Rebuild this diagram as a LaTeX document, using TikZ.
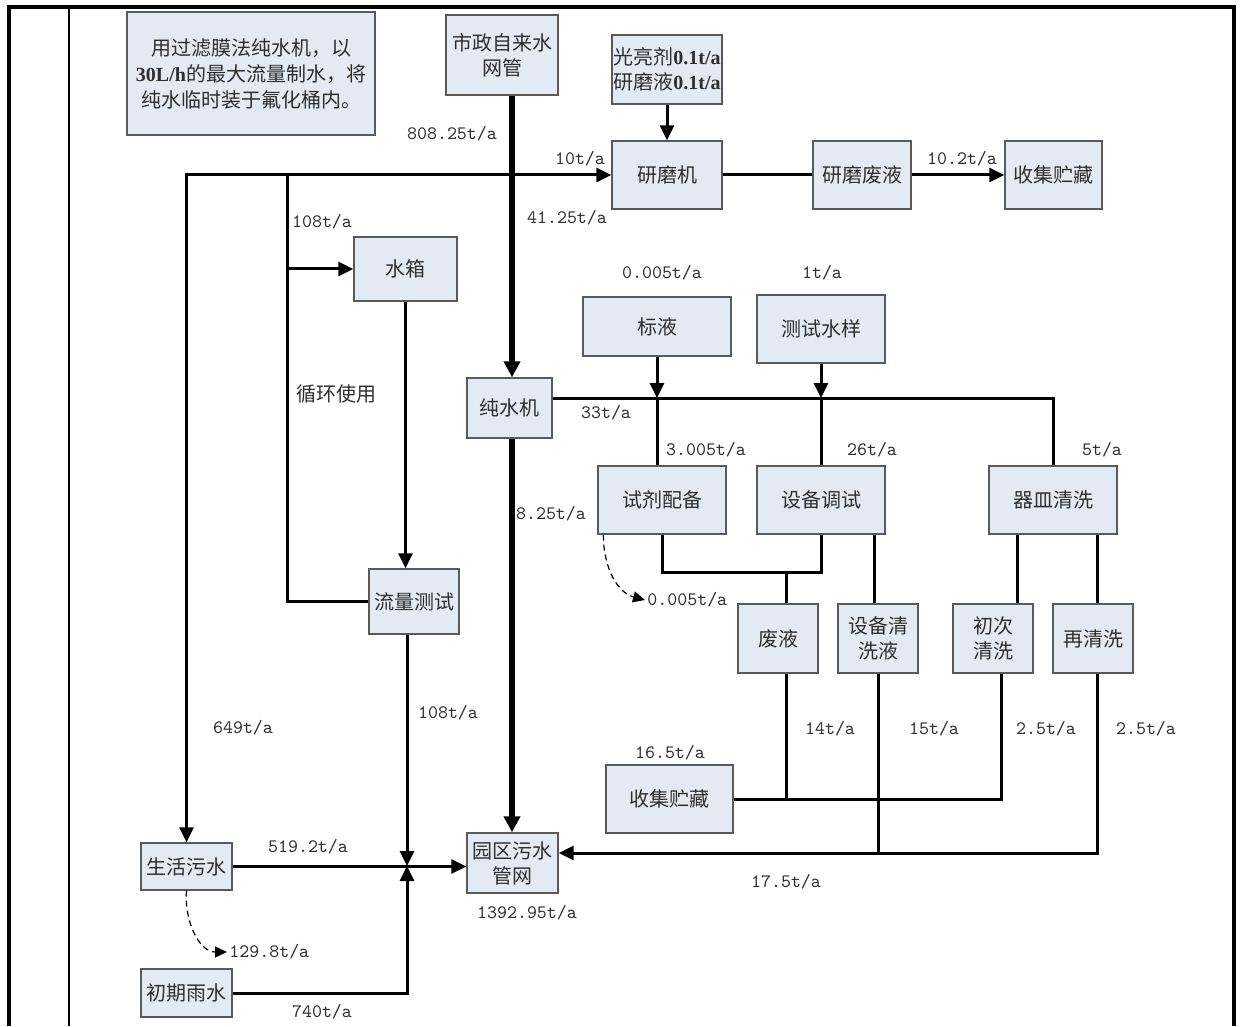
\documentclass[tikz,border=0pt]{standalone}
\usepackage{fontspec}
\usepackage{xcolor}
\usepackage{tikz}
\usetikzlibrary{arrows.meta}
\newfontfamily\cjk{Noto Sans CJK SC}
\newfontfamily\tnr{Liberation Serif}
\definecolor{boxfill}{HTML}{E4EAF4}
\definecolor{boxline}{HTML}{5A5A5A}
\definecolor{txtgray}{HTML}{2E2E2E}

\begin{document}
\begin{tikzpicture}[x=0.5pt, y=-0.5pt,
  box/.style={draw=boxline, fill=boxfill, line width=0.7pt, inner sep=0pt,
              align=center, text=txtgray, font=\cjk\fontsize{10}{12.5}\selectfont},
  lbl/.style={inner sep=1pt, text=txtgray, font=\ttfamily\fontsize{9.5}{11}\selectfont},
  cnlbl/.style={inner sep=1pt, text=txtgray, font=\cjk\fontsize{10}{12}\selectfont},
  pipe/.style={line width=1.5pt},
  arr/.style={line width=1.5pt, -{Triangle[length=7.5pt,width=7pt]}},
  biarr/.style={line width=1.5pt, {Triangle[length=7.5pt,width=7pt]}-{Triangle[length=7.5pt,width=7pt]}},
  mainarr/.style={line width=2.6pt, -{Triangle[length=8pt,width=8pt]}},
  dasharr/.style={line width=0.6pt, dash pattern=on 3pt off 2pt, -{Triangle[length=6pt,width=5.5pt]}},
  cellrule/.style={line width=2pt}
]
\useasboundingbox (0,0) rectangle (1245,1026);

% table cell
\draw[cellrule] (9,1026) -- (9,7) -- (1234,7) -- (1234,1026);
\draw[line width=0.8pt] (69,7) -- (69,1026);

% boxes
\node[box, minimum width=124pt, minimum height=61.5pt, font=\cjk\fontsize{10}{13}\selectfont] (note) at (251,73.5)
  {用过滤膜法纯水机，以\\{\tnr\bfseries 30L/h}的最大流量制水，将\\纯水临时装于氟化桶内。};
\node[box, minimum width=56pt, minimum height=40pt] (tap) at (502,55) {市政自来水\\网管};
\node[box, minimum width=55pt, minimum height=34.5pt] (additive) at (667,69.5)
  {光亮剂{\tnr\bfseries 0.1t/a}\\研磨液{\tnr\bfseries 0.1t/a}};
\node[box, minimum width=55pt, minimum height=34pt] (grinder) at (667,175) {研磨机};
\node[box, minimum width=49pt, minimum height=34pt] (grindwaste) at (862,175) {研磨废液};
\node[box, minimum width=48.5pt, minimum height=34pt] (storeA) at (1053.5,175) {收集贮藏};
\node[box, minimum width=51.5pt, minimum height=32pt] (tank) at (405.5,269) {水箱};
\node[box, minimum width=74pt, minimum height=29.5pt] (stdsol) at (657,326.5) {标液};
\node[box, minimum width=64pt, minimum height=34pt] (sample) at (821,329) {测试水样};
\node[box, minimum width=42.5pt, minimum height=30pt] (purifier) at (509.5,408) {纯水机};
\node[box, minimum width=64pt, minimum height=34pt] (reagent) at (662,500) {试剂配备};
\node[box, minimum width=64pt, minimum height=34pt] (debug) at (821,500) {设备调试};
\node[box, minimum width=64pt, minimum height=34pt] (dishwash) at (1053,500) {器皿清洗};
\node[box, minimum width=45pt, minimum height=32.5pt] (flowtest) at (414,601.5) {流量测试};
\node[box, minimum width=40pt, minimum height=34.5pt] (wasteliq) at (778,638.5) {废液};
\node[box, minimum width=40pt, minimum height=34.5pt] (eqclean) at (878,638.5) {设备清\\洗液};
\node[box, minimum width=40pt, minimum height=34.5pt] (firstwash) at (993,638.5) {初次\\清洗};
\node[box, minimum width=40pt, minimum height=34.5pt] (rewash) at (1093,638.5) {再清洗};
\node[box, minimum width=63.5pt, minimum height=34pt] (storeB) at (669.5,799) {收集贮藏};
\node[box, minimum width=45.5pt, minimum height=23.5pt] (domestic) at (186.5,866.5) {生活污水};
\node[box, minimum width=45.5pt, minimum height=30pt] (parknet) at (512.5,863) {园区污水\\管网};
\node[box, minimum width=45.5pt, minimum height=24pt] (rain) at (186.5,993) {初期雨水};

% junctions
\coordinate (mainx) at (512,0);
\coordinate (loopx) at (287,0);
\coordinate (mix) at (407,866);
\coordinate (busy) at (0,398);
\coordinate (wj) at (786,572);
\coordinate (retn) at (0,853);
\coordinate (dbx) at (874,0);
\coordinate (fwx) at (1017,0);
\coordinate (rwx) at (1097,0);
\coordinate (cbx) at (1001,0);

% tap water
\draw[mainarr] (tap.south -| mainx) -- (purifier.north -| mainx);
\draw[biarr] (domestic.north) |- (grinder.west);
\draw[pipe] (loopx |- grinder.west) -- (loopx |- flowtest.west) -- (flowtest.west);
\draw[arr] (loopx |- tank.west) -- (tank.west);
\draw[arr] (tank.south) -- (tank.south |- flowtest.north);
\draw[arr] (flowtest.south -| mix) -- (mix);
\draw[arr] (rain.east) -| (mix);
\draw[arr] (domestic.east) -- (domestic.east -| parknet.west);

% grinding
\draw[arr] (additive.south) -- (grinder.north);
\draw[pipe] (grinder.east) -- (grindwaste.west);
\draw[arr] (grindwaste.east) -- (storeA.west);

% pure water
\draw[pipe] (purifier.east |- busy) -| (dishwash.north);
\draw[arr] (stdsol.south) -- (stdsol.south |- busy);
\draw[pipe] (stdsol.south |- busy) -- (stdsol.south |- reagent.north);
\draw[arr] (sample.south) -- (sample.south |- busy);
\draw[pipe] (sample.south |- busy) -- (sample.south |- debug.north);
\draw[mainarr] (purifier.south -| mainx) -- (parknet.north -| mainx);

% waste water
\draw[pipe] (reagent.south) |- (wj) -| (debug.south);
\draw[pipe] (wj) -- (wj |- wasteliq.north);
\draw[pipe] (dbx |- debug.south) -- (dbx |- eqclean.north);
\draw[pipe] (fwx |- dishwash.south) -- (fwx |- firstwash.north);
\draw[pipe] (rwx |- dishwash.south) -- (rwx |- rewash.north);
\draw[pipe] (wj |- wasteliq.south) -- (wj |- storeB.east);
\draw[pipe] (storeB.east) -| (cbx |- firstwash.south);
\draw[pipe] (eqclean.south) -- (eqclean.south |- retn);
\draw[arr] (rwx |- rewash.south) |- (parknet.east |- retn);

% losses
\node[lbl, anchor=west] (lossA) at (645,600) {0.005t/a};
\draw[dasharr] ([xshift=3pt]reagent.south west) to[out=-90,in=165] (lossA.west);
\node[lbl, anchor=west] (lossB) at (227,952) {129.8t/a};
\draw[dasharr] (domestic.south) to[out=-95,in=180] (lossB.west);

% quantities
\node[lbl] (qtap) at (452,134) {808.25t/a};
\node[lbl] (qgrind) at (580,159) {10t/a};
\node[lbl] (qpure) at (567,218) {41.25t/a};
\node[lbl] (qgwaste) at (962,159) {10.2t/a};
\node[lbl] (qtank) at (322,222) {108t/a};
\node[cnlbl] (qloop) at (336,394) {循环使用};
\node[lbl] (qstd) at (662,273) {0.005t/a};
\node[lbl] (qsample) at (822,273) {1t/a};
\node[lbl] (qbus) at (606,413) {33t/a};
\node[lbl] (qreag) at (706,450) {3.005t/a};
\node[lbl] (qdebug) at (872,450) {26t/a};
\node[lbl] (qdish) at (1102,450) {5t/a};
\node[lbl] (qdrain) at (551,514) {8.25t/a};
\node[lbl] (qflow) at (448,713) {108t/a};
\node[lbl] (qdom) at (243,728) {649t/a};
\node[lbl] (qwaste) at (830,729) {14t/a};
\node[lbl] (qeq) at (934,729) {15t/a};
\node[lbl] (qfirst) at (1046,729) {2.5t/a};
\node[lbl] (qre) at (1146,729) {2.5t/a};
\node[lbl] (qstore) at (670,753) {16.5t/a};
\node[lbl] (qdomout) at (308,847) {519.2t/a};
\node[lbl] (qreturn) at (786,882) {17.5t/a};
\node[lbl] (qpark) at (527,913) {1392.95t/a};
\node[lbl] (qrain) at (322,1012) {740t/a};
\end{tikzpicture}
\end{document}
